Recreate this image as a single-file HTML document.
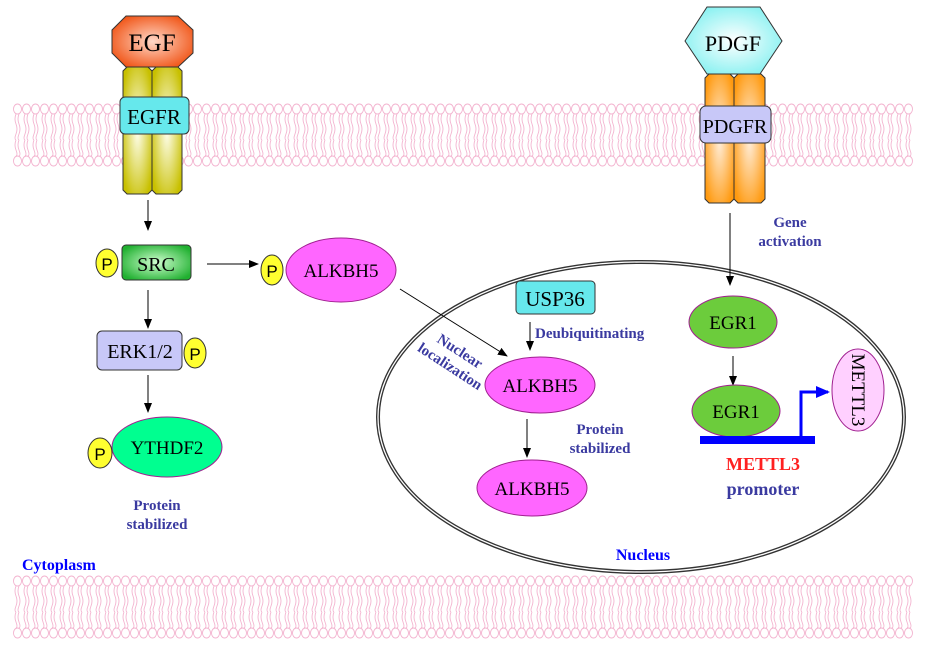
<!DOCTYPE html>
<html><head><meta charset="utf-8"><style>
html,body{margin:0;padding:0;background:#fff;}
svg{display:block;}
.b{font-weight:bold;fill:#3a3aa0;font-size:15px;}
</style></head><body>
<svg width="925" height="652" viewBox="0 0 925 652" xmlns="http://www.w3.org/2000/svg" font-family="'Liberation Serif', serif" style="font-family:'Liberation Serif',serif">
<defs>
<g id="lipunit" fill="none" stroke="#f3b3cf" stroke-width="0.9">
<ellipse cx="4.5" cy="6" rx="4" ry="5"/>
<path d="M3 11 q-2 5 0 10 q2 5 0 10 q-2 5 0 6 M6 11 q-2 5 0 10 q2 5 0 10 q-2 5 0 6"/>
<path d="M3 37 q-2 5 0 10 q2 5 0 6 M6 37 q-2 5 0 10 q2 5 0 6"/>
<ellipse cx="4.5" cy="58" rx="4" ry="5"/>
</g>
<pattern id="lip1" x="13" y="103" width="9" height="70" patternUnits="userSpaceOnUse"><use href="#lipunit"/></pattern>
<pattern id="lip2" x="13" y="575" width="9" height="70" patternUnits="userSpaceOnUse"><use href="#lipunit"/></pattern>
<radialGradient id="gy" cx="0.5" cy="0.5" r="0.6"><stop offset="0" stop-color="#fffff0"/><stop offset="1" stop-color="#c8c000"/></radialGradient>
<radialGradient id="go" cx="0.5" cy="0.5" r="0.6"><stop offset="0" stop-color="#fff0e0"/><stop offset="1" stop-color="#ff9a10"/></radialGradient>
<radialGradient id="gr" cx="0.5" cy="0.5" r="0.6"><stop offset="0" stop-color="#ffd8c8"/><stop offset="1" stop-color="#f05010"/></radialGradient>
<radialGradient id="gc" cx="0.5" cy="0.5" r="0.6"><stop offset="0" stop-color="#ffffff"/><stop offset="1" stop-color="#80f0f0"/></radialGradient>
<radialGradient id="gg" cx="0.5" cy="0.5" r="0.6"><stop offset="0" stop-color="#d0ffd0"/><stop offset="1" stop-color="#20b030"/></radialGradient>
<marker id="ar" markerWidth="10" markerHeight="10" refX="9" refY="5" orient="auto" markerUnits="userSpaceOnUse"><path d="M0,1 L10,5 L0,9 z" fill="#000"/></marker>
<marker id="arb" markerWidth="14" markerHeight="14" refX="12" refY="7" orient="auto" markerUnits="userSpaceOnUse"><path d="M0,1 L14,7 L0,13 z" fill="#0000ff"/></marker>
</defs>
<!-- membranes -->
<rect x="13" y="103" width="900" height="70" fill="url(#lip1)"/>
<rect x="13" y="575" width="900" height="70" fill="url(#lip2)"/>
<!-- nucleus -->
<ellipse cx="641" cy="417" rx="263" ry="155" fill="none" stroke="#333" stroke-width="4"/>
<ellipse cx="641" cy="417" rx="263" ry="155" fill="none" stroke="#fff" stroke-width="1.3"/>
<!-- EGFR -->
<path d="M123,71 l4,-4 h21 l4,4 v119 l-4,4 h-21 l-4,-4 z" fill="url(#gy)" stroke="#333"/>
<path d="M152,71 l4,-4 h22 l4,4 v119 l-4,4 h-22 l-4,-4 z" fill="url(#gy)" stroke="#333"/>
<path d="M126,16 h52 l15,14 v23 l-15,14 h-52 l-14,-14 v-23 z" fill="url(#gr)" stroke="#333"/>
<text x="152" y="51" font-size="25" text-anchor="middle">EGF</text>
<rect x="120" y="97" width="69" height="37" rx="5" fill="#66e8ec" stroke="#333"/>
<text x="154" y="124" font-size="21" text-anchor="middle">EGFR</text>
<!-- PDGFR -->
<path d="M705,78 l4,-4 h21 l4,4 v121 l-4,4 h-21 l-4,-4 z" fill="url(#go)" stroke="#333"/>
<path d="M734,78 l4,-4 h23 l4,4 v121 l-4,4 h-23 l-4,-4 z" fill="url(#go)" stroke="#333"/>
<path d="M685,41 l22,-34 h53 l22,34 l-22,33 h-53 z" fill="url(#gc)" stroke="#333"/>
<text x="733" y="51" font-size="22" text-anchor="middle">PDGF</text>
<rect x="700" y="106" width="71" height="37" rx="6" fill="#c8c8f8" stroke="#333"/>
<text x="735" y="133" font-size="20" text-anchor="middle">PDGFR</text>
<!-- left pathway -->
<line x1="148" y1="200" x2="148" y2="230" stroke="#000" marker-end="url(#ar)"/>
<rect x="122" y="245" width="69" height="35" rx="4" fill="url(#gg)" stroke="#333"/>
<text x="156" y="271" font-size="20" text-anchor="middle">SRC</text>
<ellipse cx="107" cy="263" rx="11" ry="14" fill="#ffff30" stroke="#333"/>
<text x="107" y="270" font-size="17" text-anchor="middle" style="font-family:'Liberation Sans',sans-serif">P</text>
<line x1="207" y1="264" x2="258" y2="264" stroke="#000" marker-end="url(#ar)"/>
<ellipse cx="341" cy="270" rx="55" ry="32" fill="#ff66ff" stroke="#a02090"/>
<text x="341" y="277" font-size="19" text-anchor="middle">ALKBH5</text>
<ellipse cx="272" cy="270" rx="11" ry="15" fill="#ffff30" stroke="#333"/>
<text x="272" y="277" font-size="17" text-anchor="middle" style="font-family:'Liberation Sans',sans-serif">P</text>
<line x1="148" y1="290" x2="148" y2="328" stroke="#000" marker-end="url(#ar)"/>
<rect x="97" y="331" width="85" height="39" rx="5" fill="#c8c8f8" stroke="#333"/>
<text x="140" y="358" font-size="20" text-anchor="middle">ERK1/2</text>
<ellipse cx="195" cy="353" rx="11" ry="15" fill="#ffff30" stroke="#333"/>
<text x="195" y="360" font-size="17" text-anchor="middle" style="font-family:'Liberation Sans',sans-serif">P</text>
<line x1="148" y1="375" x2="148" y2="412" stroke="#000" marker-end="url(#ar)"/>
<ellipse cx="167" cy="447" rx="55" ry="30" fill="#00ff90" stroke="#a02090"/>
<text x="167" y="454" font-size="19" text-anchor="middle">YTHDF2</text>
<ellipse cx="100" cy="453" rx="12" ry="15" fill="#ffff30" stroke="#333"/>
<text x="100" y="460" font-size="17" text-anchor="middle" style="font-family:'Liberation Sans',sans-serif">P</text>
<text x="157" y="510" class="b" text-anchor="middle">Protein</text>
<text x="157" y="529" class="b" text-anchor="middle">stabilized</text>
<text x="22" y="570" font-size="16" font-weight="bold" fill="#0000ff">Cytoplasm</text>
<!-- nucleus content -->
<line x1="400" y1="289" x2="507" y2="356" stroke="#000" marker-end="url(#ar)"/>
<g transform="translate(453,362) rotate(33)"><text x="0" y="-8" class="b" text-anchor="middle">Nuclear</text><text x="0" y="10" class="b" text-anchor="middle">localization</text></g>
<rect x="516" y="281" width="79" height="33" rx="4" fill="#66e8ec" stroke="#333"/>
<text x="555" y="306" font-size="21" text-anchor="middle">USP36</text>
<line x1="530" y1="322" x2="530" y2="350" stroke="#000" marker-end="url(#ar)"/>
<text x="535" y="338" class="b">Deubiquitinating</text>
<ellipse cx="540" cy="385" rx="55" ry="28" fill="#ff66ff" stroke="#a02090"/>
<text x="540" y="392" font-size="19" text-anchor="middle">ALKBH5</text>
<line x1="527" y1="419" x2="527" y2="457" stroke="#000" marker-end="url(#ar)"/>
<text x="600" y="434" class="b" text-anchor="middle">Protein</text>
<text x="600" y="453" class="b" text-anchor="middle">stabilized</text>
<ellipse cx="532" cy="488" rx="55" ry="28" fill="#ff66ff" stroke="#a02090"/>
<text x="532" y="495" font-size="19" text-anchor="middle">ALKBH5</text>
<text x="643" y="560" font-size="16" font-weight="bold" fill="#0000ff" text-anchor="middle">Nucleus</text>
<!-- right pathway -->
<text x="790" y="227" class="b" text-anchor="middle">Gene</text>
<text x="790" y="246" class="b" text-anchor="middle">activation</text>
<line x1="730" y1="213" x2="730" y2="285" stroke="#000" marker-end="url(#ar)"/>
<ellipse cx="733" cy="322" rx="44" ry="26" fill="#6ccc3c" stroke="#a02090"/>
<text x="733" y="329" font-size="19" text-anchor="middle">EGR1</text>
<line x1="733" y1="356" x2="733" y2="385" stroke="#000" marker-end="url(#ar)"/>
<ellipse cx="736" cy="411" rx="44" ry="26" fill="#6ccc3c" stroke="#a02090"/>
<text x="736" y="418" font-size="19" text-anchor="middle">EGR1</text>
<rect x="700" y="436" width="115" height="8" fill="#0000ff"/>
<polyline points="801,437 801,392 828,392" fill="none" stroke="#0000ff" stroke-width="3" marker-end="url(#arb)"/>
<ellipse cx="858" cy="390" rx="26" ry="41" fill="#ffd0ff" stroke="#a02090"/>
<text transform="translate(852,390) rotate(90)" font-size="19" text-anchor="middle">METTL3</text>
<text x="763" y="470" font-size="18" font-weight="bold" fill="#ff2020" text-anchor="middle">METTL3</text>
<text x="763" y="495" font-size="18" font-weight="bold" fill="#3a3aa0" text-anchor="middle">promoter</text>
</svg>
</body></html>
